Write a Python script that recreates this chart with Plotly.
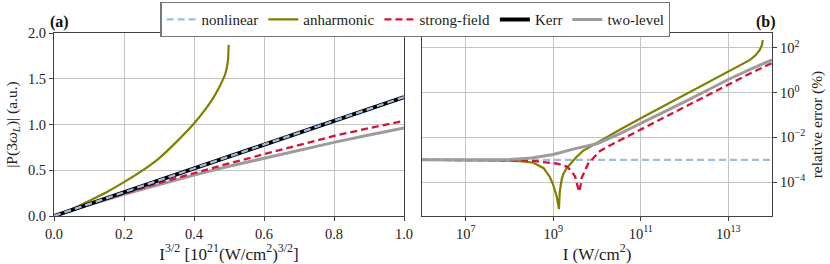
import numpy as np
import plotly.graph_objects as go

# ---------------- data: panel (a) ----------------
x_a = [0, 0.1, 0.2, 0.3, 0.4, 0.5, 0.6, 0.7, 0.8, 0.9, 1.0]
kerr_a = [0, 0.13, 0.26, 0.39, 0.52, 0.65, 0.78, 0.91, 1.04, 1.17, 1.30]
nonlinear_a = [0, 0.13, 0.26, 0.39, 0.52, 0.65, 0.78, 0.91, 1.04, 1.17, 1.30]
strong_a = [0, 0.125, 0.245, 0.36, 0.47, 0.575, 0.675, 0.775, 0.875, 0.96, 1.04]
twolevel_a = [0, 0.123, 0.237, 0.345, 0.447, 0.543, 0.632, 0.72, 0.805, 0.886, 0.962]
x_anh_a = [0, 0.05, 0.1, 0.15, 0.2, 0.25, 0.3, 0.35, 0.4, 0.45, 0.475, 0.49, 0.497, 0.499]
anh_a = [0, 0.075, 0.165, 0.26, 0.37, 0.49, 0.63, 0.81, 1.01, 1.26, 1.43, 1.56, 1.70, 1.87]

# ---------------- data: panel (b), log10 values ----------------
logI_nonlin = [6, 14]
logE_nonlin = [-3, -3]
logI_anh = [6, 7, 8, 8.3, 8.55, 8.78, 8.92, 9.0, 9.08, 9.13, 9.15, 9.19, 9.23, 9.31, 9.42,
            9.53, 9.68, 9.91, 10.29, 10.5, 11, 11.5, 12, 12.5, 13, 13.3, 13.5, 13.63, 13.72,
            13.77, 13.79]
logE_anh = [-3, -3, -3.03, -3.07, -3.13, -3.37, -3.75, -4.12, -4.64, -5.19, -4.4, -3.9, -3.63,
            -3.36, -3.11, -2.87, -2.6, -2.34, -1.89, -1.68, -1.15, -0.63, -0.1, 0.42, 0.95,
            1.25, 1.45, 1.67, 1.9, 2.12, 2.34]
logI_strong = [6, 7, 8, 8.3, 8.6, 8.9, 9.1, 9.31, 9.42, 9.5, 9.55, 9.59, 9.62, 9.65, 9.72,
               9.8, 9.95, 10.07, 10.5, 11, 11.5, 12, 12.5, 13, 13.5, 14]
logE_strong = [-3, -3, -3, -3.02, -3.06, -3.12, -3.17, -3.3, -3.5, -3.75, -4.12, -4.42, -4.2,
               -3.8, -3.5, -3.16, -2.85, -2.6, -2.15, -1.65, -1.15, -0.63, -0.12, 0.38, 0.85, 1.31]
logI_two = [6, 7, 8, 8.5, 9, 9.5, 10, 10.5, 11, 11.5, 12, 12.5, 13, 13.5, 14]
logE_two = [-3, -3, -2.98, -2.92, -2.76, -2.5, -2.28, -1.85, -1.38, -0.9, -0.42, 0.08, 0.58,
            1.03, 1.45]

# tick labels
xa_ticks = [0, 0.2, 0.4, 0.6, 0.8, 1.0]
xa_labels = ["0.0", "0.2", "0.4", "0.6", "0.8", "1.0"]
ya_ticks = [0, 0.5, 1.0, 1.5, 2.0]
ya_labels = ["0.0", "0.5", "1.0", "1.5", "2.0"]
xb_exp = [7, 9, 11, 13]
yb_exp = [-4, -2, 0, 2]

def p10(v):
    return list(10.0 ** np.array(v, dtype=float))

def sup_labels(exps):
    return ["10<sup>%s</sup>" % (str(e).replace("-", "\u2212")) for e in exps]

C_NL = "#9ebde2"
C_ANH = "#808000"
C_SF = "#d2143a"
C_K = "#000000"
C_TL = "#9c9c9c"
DASH = "7px,4px"

fig = go.Figure()

# panel (a)
fig.add_trace(go.Scatter(x=x_a, y=twolevel_a, mode="lines", name="two-level", legendrank=5,
                         line=dict(color=C_TL, width=3), xaxis="x", yaxis="y"))
fig.add_trace(go.Scatter(x=x_a, y=strong_a, mode="lines", name="strong-field", legendrank=3,
                         line=dict(color=C_SF, width=2.3, dash=DASH), xaxis="x", yaxis="y"))
fig.add_trace(go.Scatter(x=x_anh_a, y=anh_a, mode="lines", name="anharmonic", legendrank=2,
                         line=dict(color=C_ANH, width=2.2, shape="spline", smoothing=0.6),
                         xaxis="x", yaxis="y"))
fig.add_trace(go.Scatter(x=x_a, y=kerr_a, mode="lines", name="Kerr", legendrank=4,
                         line=dict(color=C_K, width=4), xaxis="x", yaxis="y"))
fig.add_trace(go.Scatter(x=x_a, y=nonlinear_a, mode="lines", name="nonlinear", legendrank=1,
                         line=dict(color=C_NL, width=2.3, dash=DASH), xaxis="x", yaxis="y"))

# panel (b)
fig.add_trace(go.Scatter(x=p10(logI_nonlin), y=p10(logE_nonlin), mode="lines", showlegend=False,
                         line=dict(color=C_NL, width=2.3, dash=DASH), xaxis="x2", yaxis="y2"))
fig.add_trace(go.Scatter(x=p10(logI_anh), y=p10(logE_anh), mode="lines", showlegend=False,
                         line=dict(color=C_ANH, width=2.2), xaxis="x2", yaxis="y2"))
fig.add_trace(go.Scatter(x=p10(logI_strong), y=p10(logE_strong), mode="lines", showlegend=False,
                         line=dict(color=C_SF, width=2.3, dash=DASH), xaxis="x2", yaxis="y2"))
fig.add_trace(go.Scatter(x=p10(logI_two), y=p10(logE_two), mode="lines", showlegend=False,
                         line=dict(color=C_TL, width=3), xaxis="x2", yaxis="y2"))

W, H = 830, 264
FONT = "Liberation Serif"
axis_common = dict(showgrid=True, gridcolor="#c4c4c4", gridwidth=1, showline=True,
                   linecolor="#404040", linewidth=1.2, mirror=True, ticks="outside",
                   ticklen=4, tickcolor="#404040", zeroline=False, automargin=False,
                   tickfont=dict(family=FONT, size=14.5, color="#222"))

top = 1 - 33 / H
bot = 1 - 216 / H
TFX = dict(family=FONT, size=17, color="#222")
TFY = dict(family=FONT, size=15.5, color="#222")

fig.update_layout(
    width=W, height=H, margin=dict(l=0, r=0, t=0, b=0, autoexpand=False),
    paper_bgcolor="white", plot_bgcolor="white",
    font=dict(family=FONT, size=14, color="#222"),
    xaxis=dict(domain=[54 / W, 404 / W], range=[0, 1], tickvals=xa_ticks, ticktext=xa_labels,
               anchor="y",
               title=dict(text="I<sup>3/2</sup> [10<sup>21</sup>(W/cm<sup>2</sup>)<sup>3/2</sup>]",
                          standoff=3, font=TFX),
               **axis_common),
    yaxis=dict(domain=[bot, top], range=[0, 2], tickvals=ya_ticks, ticktext=ya_labels,
               anchor="x",
               title=dict(text="|P(3<i>ω<sub>L</sub></i>)| (a.u.)", standoff=6, font=TFY),
               **axis_common),
    xaxis2=dict(domain=[422 / W, 772 / W], type="log", range=[6, 14],
                tickvals=p10(xb_exp), ticktext=sup_labels(xb_exp), anchor="y2",
                title=dict(text="I (W/cm<sup>2</sup>)", standoff=3, font=TFX),
                **axis_common),
    yaxis2=dict(domain=[bot, top], type="log", range=[-5.5, 2.65], side="right",
                tickvals=p10(yb_exp), ticktext=sup_labels(yb_exp), anchor="x2",
                title=dict(text="relative error (%)", standoff=6, font=TFY),
                **axis_common),
    legend=dict(orientation="h", x=0.5005, xanchor="center", y=1 - 2 / H, yanchor="top",
                bordercolor="#777", borderwidth=1.2, bgcolor="white",
                font=dict(family=FONT, size=15, color="#222"), itemwidth=30,
                tracegroupgap=0, traceorder="normal"),
    annotations=[
        dict(text="<b>(a)</b>", xref="paper", yref="paper", x=48 / W, y=top, xanchor="left",
             yanchor="bottom", showarrow=False, font=dict(family=FONT, size=16, color="#111")),
        dict(text="<b>(b)</b>", xref="paper", yref="paper", x=778 / W, y=top, xanchor="right",
             yanchor="bottom", showarrow=False, font=dict(family=FONT, size=16, color="#111")),
    ],
)

fig.write_html("out.html", config={"displayModeBar": False},
               post_script="document.body.style.margin='0';document.body.style.padding='0';")
